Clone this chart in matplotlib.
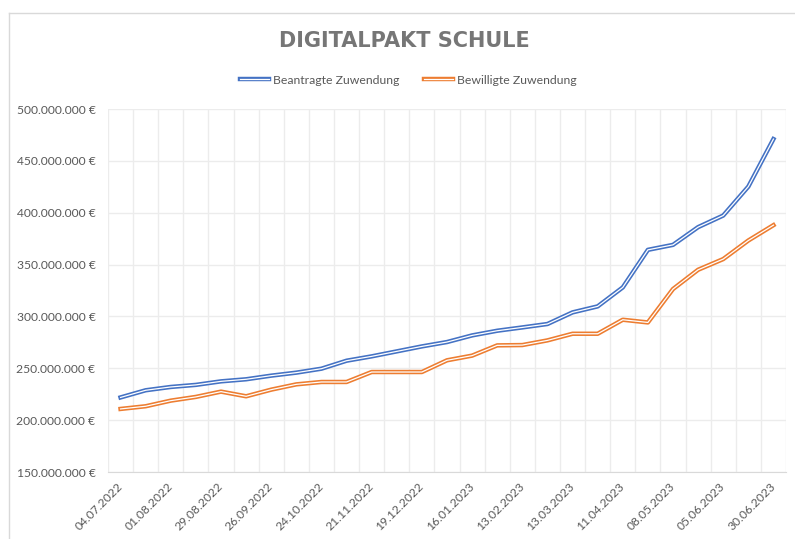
import matplotlib.pyplot as plt
import matplotlib.patheffects as pe
from matplotlib.lines import Line2D
from matplotlib.ticker import FuncFormatter, MultipleLocator

plt.rcParams['font.family'] = ['Lato', 'DejaVu Sans']

# Stichtage (zweiwöchentlich)
datum = ['04.07.2022', '18.07.2022', '01.08.2022', '15.08.2022', '29.08.2022',
         '12.09.2022', '26.09.2022', '10.10.2022', '24.10.2022', '07.11.2022',
         '21.11.2022', '05.12.2022', '19.12.2022', '02.01.2023', '16.01.2023',
         '30.01.2023', '13.02.2023', '27.02.2023', '13.03.2023', '27.03.2023',
         '11.04.2023', '24.04.2023', '08.05.2023', '22.05.2023', '05.06.2023',
         '19.06.2023', '30.06.2023']

# Mio. Euro
beantragt = [221.9, 228.8, 232.0, 234.0, 237.4, 239.4, 242.9, 245.8, 249.6,
             257.3, 261.5, 266.3, 271.1, 275.3, 281.7, 286.2, 289.4, 292.7,
             303.9, 309.7, 328.0, 364.2, 369.0, 386.1, 397.3, 425.2, 471.0]
bewilligt = [210.8, 213.4, 218.8, 222.4, 227.5, 223.0, 229.4, 234.5, 236.8,
             236.8, 246.4, 246.4, 246.4, 257.7, 262.2, 272.1, 272.4, 276.9,
             283.3, 283.3, 296.8, 294.2, 326.4, 345.0, 355.3, 373.2, 388.0]

blau = '#4472C4'
orange = '#ED7D31'
grau = '#595959'

fig = plt.figure(figsize=(7.95, 5.39), dpi=100)
ax = fig.add_axes([108 / 795, 1 - 472 / 539, 678 / 795, 363 / 539])

x = list(range(len(datum)))
for werte, farbe, name in [(beantragt, blau, 'Beantragte Zuwendung'),
                           (bewilligt, orange, 'Bewilligte Zuwendung')]:
    ax.plot(x, [w * 1e6 for w in werte], color='white', lw=0.9, label=name,
            path_effects=[pe.Stroke(linewidth=3.2, foreground=farbe), pe.Normal()])

ax.set_xlim(-0.5, len(datum) - 0.5)
ax.set_ylim(150e6, 500e6)
ax.yaxis.set_major_locator(MultipleLocator(50e6))
ax.yaxis.set_major_formatter(FuncFormatter(lambda v, p: f'{v:,.0f}'.replace(',', '.') + ' €'))

ax.set_xticks(x[::2])
ax.set_xticklabels(datum[::2], rotation=45, ha='right', va='center',
                   rotation_mode='anchor')
ax.set_xticks([i - 0.5 for i in range(len(datum) + 1)], minor=True)

ax.grid(which='minor', axis='x', color='#ececec', lw=1)
ax.grid(which='major', axis='y', color='#ececec', lw=1)
ax.grid(which='major', axis='x', visible=False)
ax.set_axisbelow(True)
ax.tick_params(which='both', length=0, colors=grau, labelsize=8.7)
ax.tick_params(axis='x', pad=9)
ax.tick_params(axis='y', pad=9)
for s in ['top', 'right', 'left']:
    ax.spines[s].set_visible(False)
ax.spines['bottom'].set_color('#d9d9d9')

fig.text(404 / 795, 1 - 41 / 539, 'DIGITALPAKT SCHULE', ha='center', va='center',
         fontsize=15, fontweight='bold', color='#767676',
         family=['DejaVu Sans'])
fig.legend(loc='center', bbox_to_anchor=(408 / 795, 1 - 80 / 539), ncol=2,
           frameon=False, fontsize=8.8, labelcolor=grau, handlelength=2.4,
           handletextpad=0.3, columnspacing=2.0)

# Rahmen des Diagrammbereichs
fig.add_artist(Line2D([8.5 / 795, 8.5 / 795], [0, 1 - 12.5 / 539],
                      transform=fig.transFigure, color='#d9d9d9', lw=1))
fig.add_artist(Line2D([8.5 / 795, 1], [1 - 12.5 / 539, 1 - 12.5 / 539],
                      transform=fig.transFigure, color='#d9d9d9', lw=1))

fig.savefig('out.png', dpi=100)
